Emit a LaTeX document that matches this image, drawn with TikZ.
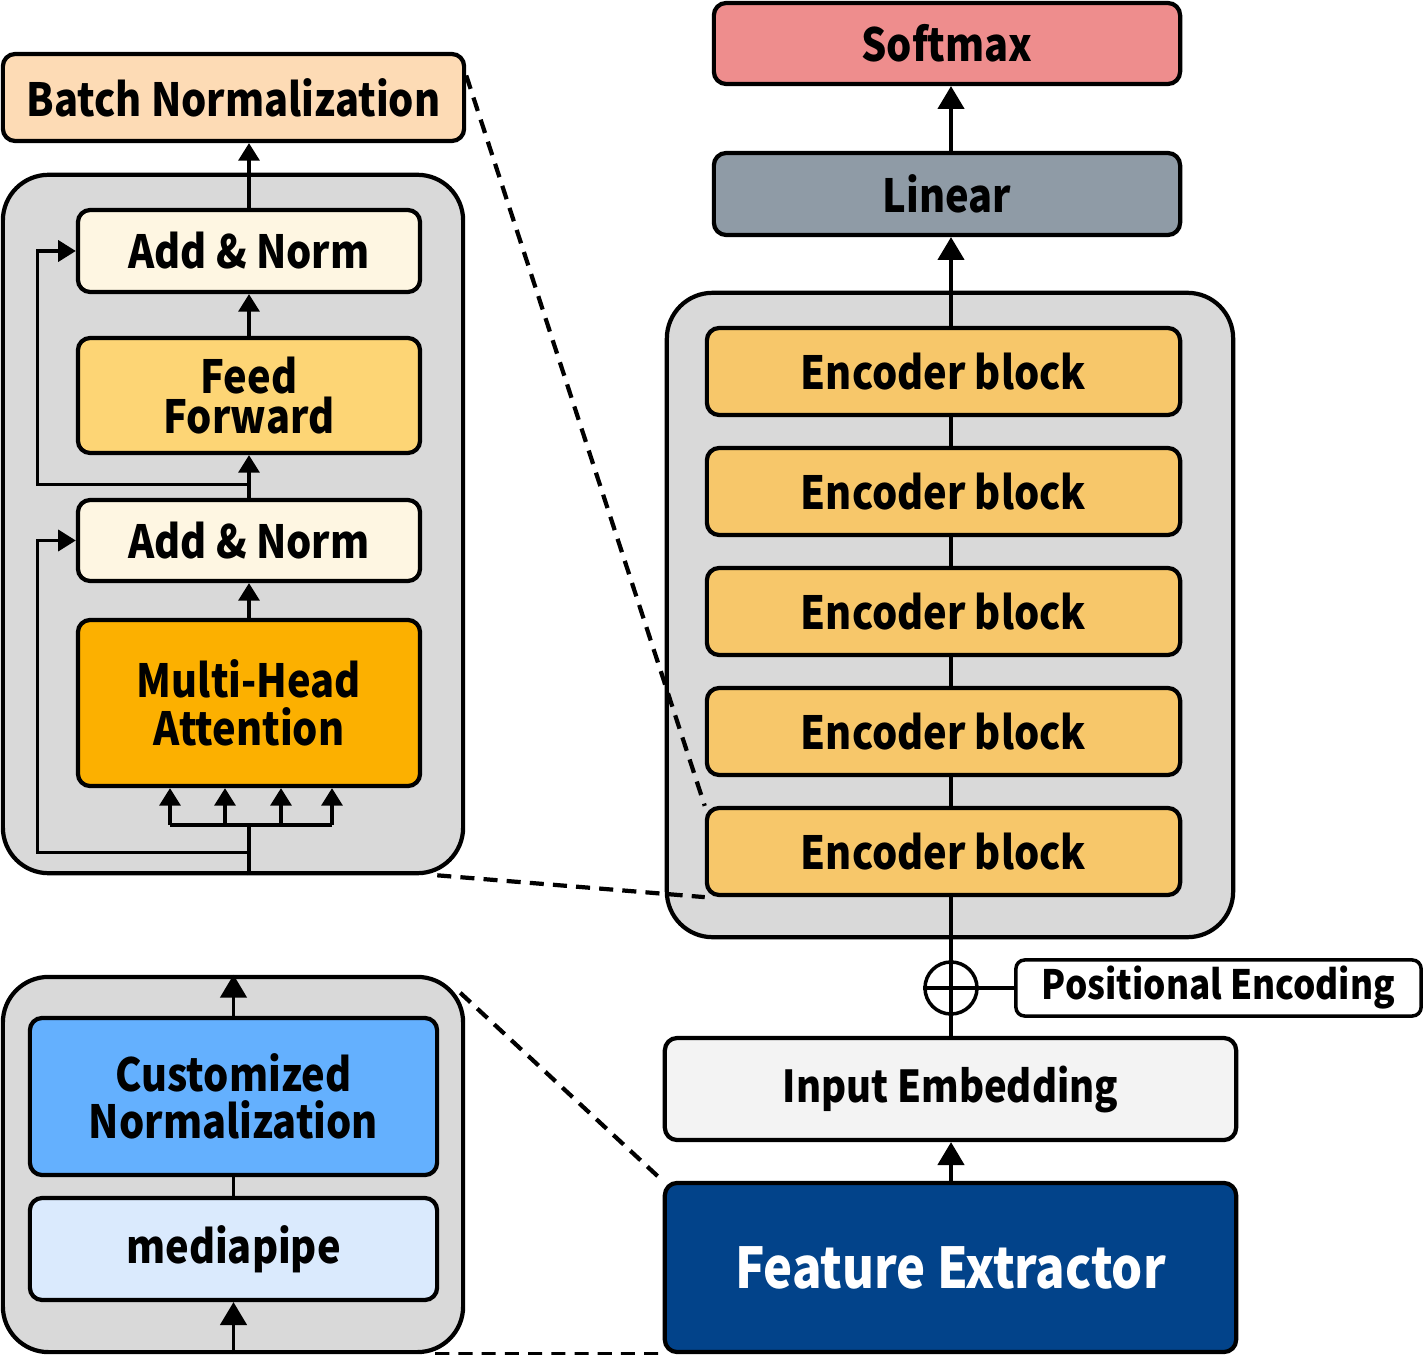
\documentclass[tikz,border=0pt]{standalone}
\usepackage{fontspec}
\setmainfont{Noto Sans CJK KR}[FakeStretch=0.87]
\usepackage{tikz}
\usetikzlibrary{arrows.meta,calc}

\definecolor{softc}{HTML}{EE8D8D}
\definecolor{linc}{HTML}{8F9BA6}
\definecolor{encc}{HTML}{F7C76A}
\definecolor{panelc}{HTML}{D9D9D9}
\definecolor{bnc}{HTML}{FDDBB5}
\definecolor{addc}{HTML}{FEF6E2}
\definecolor{ffc}{HTML}{FDD575}
\definecolor{mhac}{HTML}{FCB000}
\definecolor{cnc}{HTML}{64B0FE}
\definecolor{mpc}{HTML}{DAEAFD}
\definecolor{iec}{HTML}{F3F3F3}
\definecolor{fec}{HTML}{02438A}

\tikzset{
  blk/.style={draw, line width=1.2pt, rounded corners=3.5pt, align=center,
    inner sep=0pt, font=\bfseries\fontsize{13}{11.5}\selectfont},
  panel/.style={draw, line width=1.2pt, rounded corners=13pt, fill=panelc, inner sep=0pt},
  arr/.style={line width=0.95pt, -{Triangle[width=7.5pt,length=6.5pt]}},
  sarr/.style={line width=0.9pt, -{Triangle[width=6pt,length=5pt]}},
  lnk/.style={line width=0.95pt},
  zoomln/.style={line width=1.2pt, dash pattern=on 4pt off 2.6pt}
}

\begin{document}
\begin{tikzpicture}[x=0.01cm, y=-0.01cm]
\useasboundingbox (0,0) rectangle (1424,1355);

% right column
\node[panel, minimum width=5.66cm, minimum height=6.44cm] (stack) at (950,615) {};
\node[blk, fill=softc, minimum width=4.66cm, minimum height=0.81cm] (soft) at (947,43.5) {Softmax};
\node[blk, fill=linc, minimum width=4.66cm, minimum height=0.82cm] (lin) at (947,194) {Linear};
\foreach \i/\yy in {1/371.5, 2/491.5, 3/611.5, 4/731.5, 5/851.5}
  \node[blk, fill=encc, minimum width=4.73cm, minimum height=0.87cm] (enc\i) at (943.5,\yy) {Encoder block};
\node[circle, draw, line width=1pt, minimum size=0.52cm, inner sep=0pt] (plus) at (951,988) {};
\node[blk, fill=white, rounded corners=2.5pt, line width=1pt, minimum width=4.05cm, minimum height=0.56cm,
  font=\bfseries\fontsize{11.5}{12}\selectfont] (pe) at (1218.5,988) {Positional Encoding};
\node[blk, fill=iec, minimum width=5.71cm, minimum height=1.02cm,
  font=\bfseries\fontsize{12.5}{13}\selectfont] (ie) at (950.5,1089) {Input Embedding};
\node[blk, fill=fec, text=white, minimum width=5.71cm, minimum height=1.69cm,
  font=\bfseries\fontsize{16}{17}\selectfont] (fe) at (950.5,1267.5) {Feature Extractor};

\draw[arr] (lin.north -| plus) -- (soft.south -| plus);
\draw[arr] (enc1.north -| plus) -- (lin.south -| plus);
\foreach \i/\j in {2/1, 3/2, 4/3, 5/4}
  \draw[lnk] (enc\i.north -| plus) -- (enc\j.south -| plus);
\draw[lnk] (plus.north) -- (enc5.south -| plus);
\draw[lnk] (ie.north -| plus) -- (plus.south);
\draw[lnk] (plus.north) -- (plus.south);
\draw[lnk] (plus.west) -- (plus.east);
\draw[lnk] (plus.east) -- (pe.west);
\draw[arr] (fe.north -| plus) -- (ie.south -| plus);

% encoder block detail
\node[panel, minimum width=4.60cm, minimum height=6.98cm] (encpanel) at (233,524) {};
\node[blk, fill=bnc, minimum width=4.61cm, minimum height=0.87cm] (bn) at (233.5,97.5) {Batch Normalization};
\node[blk, fill=addc, minimum width=3.42cm, minimum height=0.82cm] (an1) at (249,251) {Add \& Norm};
\node[blk, fill=ffc, minimum width=3.42cm, minimum height=1.15cm] (ff) at (249,395.5) {Feed\\Forward};
\node[blk, fill=addc, minimum width=3.42cm, minimum height=0.81cm] (an2) at (249,540.5) {Add \& Norm};
\node[blk, fill=mhac, minimum width=3.42cm, minimum height=1.66cm,
  font=\bfseries\fontsize{13}{13.5}\selectfont] (mha) at (249,703) {Multi-Head\\Attention};

\draw[sarr] (an1.north) -- (bn.south -| an1);
\draw[sarr] (ff.north) -- (an1.south);
\draw[sarr] (an2.north) -- (ff.south);
\draw[sarr] (mha.north) -- (an2.south);
\coordinate (j1) at ($(an2.north)+(0,-13)$);
\coordinate (j2) at ($(encpanel.south -| mha)+(0,-23)$);
\coordinate (fan) at ($(mha.south)+(0,37)$);
\draw[sarr] (j1) -| ($(an1.west)+(-38,0)$) -- (an1.west);
\draw[sarr] (j2) -| ($(an2.west)+(-38,0)$) -- (an2.west);
\draw[lnk] (encpanel.south -| mha) -- (fan);
\draw[lnk] (fan -| 170,0) -- (fan -| 332,0);
\foreach \hx in {170,225,281,332}
  \draw[sarr] (fan -| \hx,0) -- (mha.south -| \hx,0);

% feature extractor detail
\node[panel, minimum width=4.60cm, minimum height=3.75cm] (fepanel) at (233,1164.5) {};
\node[blk, fill=cnc, minimum width=4.07cm, minimum height=1.57cm,
  font=\bfseries\fontsize{13}{13.5}\selectfont] (cn) at (233.5,1096.5) {Customized\\Normalization};
\node[blk, fill=mpc, minimum width=4.07cm, minimum height=1.02cm] (mp) at (233.5,1249) {mediapipe};
\draw[arr] (cn.north) -- (fepanel.north -| cn);
\draw[lnk] (mp.north) -- (cn.south);
\draw[arr] (fepanel.south -| mp) -- (mp.south);

% zoom lines
\draw[zoomln] ($(bn.east)+(0,-22)$) -- (enc5.north west);
\draw[zoomln] ($(encpanel.south east)+(-28,0)$) -- (enc5.south west);
\draw[zoomln] ($(fepanel.north east)+(-5,18)$) -- (fe.north west);
\draw[zoomln] ($(fepanel.south east)+(-30,0)$) -- (fe.south west);
\end{tikzpicture}
\end{document}
